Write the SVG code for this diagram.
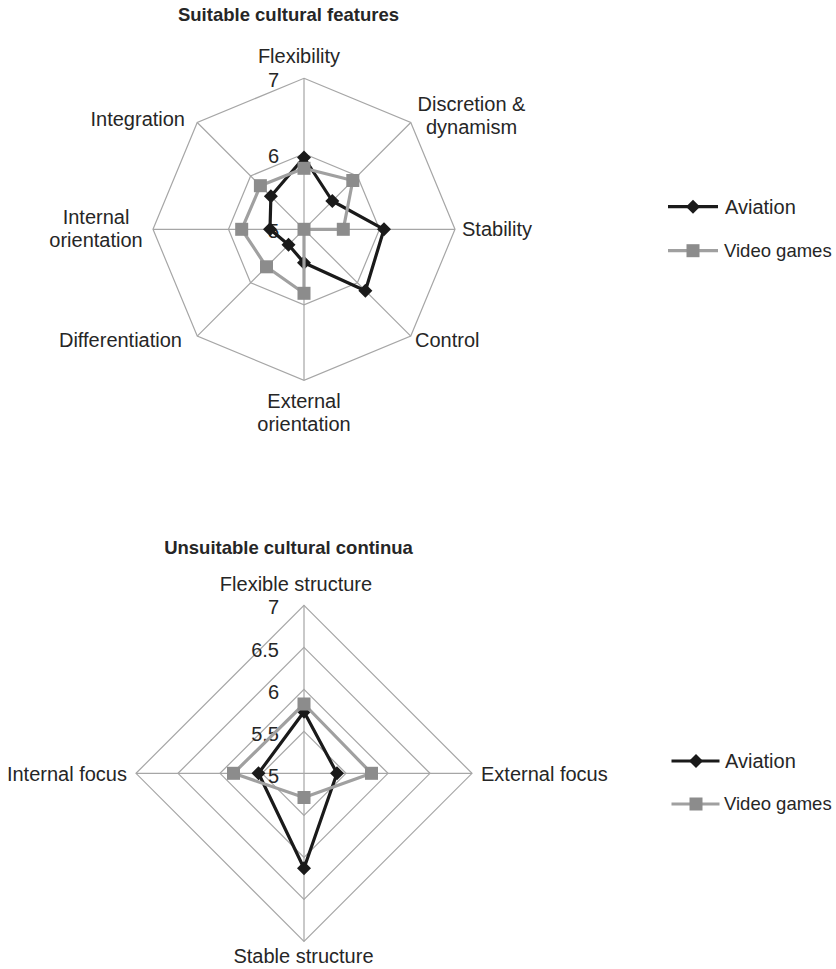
<svg xmlns="http://www.w3.org/2000/svg" xmlns:xlink="http://www.w3.org/1999/xlink" width="836" height="969" viewBox="0 0 836 969">
<style>
  text { font-family: "Liberation Sans", Arial, sans-serif; font-size: 20px; fill: #262626; }
  .title { font-weight: bold; font-size: 18.5px; }
  .mid { text-anchor: middle; }
  .end { text-anchor: end; }
  .leg { font-size: 18.5px; }
  .grid { fill: none; stroke: #a6a6a6; stroke-width: 1.2; }
  .av { fill: none; stroke: #1a1a1a; stroke-width: 3.2; stroke-linejoin: round; }
  .vg { fill: none; stroke: #a0a0a0; stroke-width: 3.2; stroke-linejoin: round; }
</style>
<defs>
  <polygon id="dia" points="0,-7 7,0 0,7 -7,0" fill="#1a1a1a"/>
  <rect id="sq" x="-6.5" y="-6.5" width="13" height="13" fill="#8c8c8c"/>
</defs>
<rect width="836" height="969" fill="#ffffff"/>

<!-- Top chart -->
<g id="chart1">
  <text class="title mid" x="288.5" y="21">Suitable cultural features</text>
  <g id="grid1">
    <polygon class="grid" points="304,78.3 410.77,122.53 455,229.3 410.77,336.07 304,380.3 197.23,336.07 153,229.3 197.23,122.53"/>
    <polygon class="grid" points="304,153.8 357.39,175.91 379.5,229.3 357.39,282.69 304,304.8 250.61,282.69 228.5,229.3 250.61,175.91"/>
    <path class="grid" d="M304,229.3L304,78.3M304,229.3L410.77,122.53M304,229.3L455,229.3M304,229.3L410.77,336.07M304,229.3L304,380.3M304,229.3L197.23,336.07M304,229.3L153,229.3M304,229.3L197.23,122.53"/>
  </g>
  <g id="scale1">
    <text class="end" x="279" y="87">7</text>
    <text class="end" x="279" y="162.5">6</text>
    <text class="end" x="279" y="238">5</text>
  </g>
  <g id="axes1">
    <text class="mid" x="299" y="63.3">Flexibility</text>
    <text class="mid" x="471.5" y="110.7">Discretion &amp;</text>
    <text class="mid" x="471.5" y="133.5">dynamism</text>
    <text x="462" y="236">Stability</text>
    <text x="415" y="346.5">Control</text>
    <text class="mid" x="304" y="408">External</text>
    <text class="mid" x="304" y="431">orientation</text>
    <text class="end" x="182" y="346.7">Differentiation</text>
    <text class="mid" x="96" y="224">Internal</text>
    <text class="mid" x="96" y="247">orientation</text>
    <text class="end" x="185" y="126">Integration</text>
  </g>
  <g id="series1-aviation">
    <polygon class="av" points="304,157.5 332.3,201 384,229.3 365.4,290.7 304,262.7 288.5,244.8 270,229.3 270.9,196.2"/>
    <use href="#dia" x="304" y="157.5"/>
    <use href="#dia" x="332.3" y="201"/>
    <use href="#dia" x="384" y="229.3"/>
    <use href="#dia" x="365.4" y="290.7"/>
    <use href="#dia" x="304" y="262.7"/>
    <use href="#dia" x="288.5" y="244.8"/>
    <use href="#dia" x="270" y="229.3"/>
    <use href="#dia" x="270.9" y="196.2"/>
  </g>
  <g id="series1-videogames">
    <polygon class="vg" points="304,168.3 352.8,180.5 343.3,229.3 304,229.3 304,293.3 266.5,266.8 241.7,229.3 260.4,185.7"/>
    <use href="#sq" x="304" y="168.3"/>
    <use href="#sq" x="352.8" y="180.5"/>
    <use href="#sq" x="343.3" y="229.3"/>
    <use href="#sq" x="304" y="229.3"/>
    <use href="#sq" x="304" y="293.3"/>
    <use href="#sq" x="266.5" y="266.8"/>
    <use href="#sq" x="241.7" y="229.3"/>
    <use href="#sq" x="260.4" y="185.7"/>
  </g>
  <g id="legend1">
    <line class="av" x1="668" y1="206.7" x2="718" y2="206.7"/>
    <use href="#dia" x="693" y="206.7"/>
    <text x="725" y="213.5">Aviation</text>
    <line class="vg" x1="668" y1="250.7" x2="718" y2="250.7"/>
    <use href="#sq" x="693" y="250.7"/>
    <text class="leg" x="724" y="257">Video games</text>
  </g>
</g>

<!-- Bottom chart -->
<g id="chart2">
  <text class="title mid" x="288.5" y="554">Unsuitable cultural continua</text>
  <g id="grid2">
    <polygon class="grid" points="304,605.3 472,773.3 304,941.3 136,773.3"/>
    <polygon class="grid" points="304,647.3 430,773.3 304,899.3 178,773.3"/>
    <polygon class="grid" points="304,689.3 388,773.3 304,857.3 220,773.3"/>
    <polygon class="grid" points="304,731.3 346,773.3 304,815.3 262,773.3"/>
    <path class="grid" d="M304,773.3L304,605.3M304,773.3L472,773.3M304,773.3L304,941.3M304,773.3L136,773.3"/>
  </g>
  <g id="scale2">
    <text class="end" x="279" y="614">7</text>
    <text class="end" x="279" y="656.5">6.5</text>
    <text class="end" x="279" y="698.5">6</text>
    <text class="end" x="279" y="740.5">5.5</text>
    <text class="end" x="279" y="782.5">5</text>
  </g>
  <g id="axes2">
    <text class="mid" x="296" y="590.7">Flexible structure</text>
    <text x="481" y="781">External focus</text>
    <text class="mid" x="303.5" y="963.3">Stable structure</text>
    <text class="end" x="127" y="781">Internal focus</text>
  </g>
  <g id="series2-aviation">
    <polygon class="av" points="304,711.7 337,773.3 304,868.3 258.5,773.3"/>
    <use href="#dia" x="304" y="711.7"/>
    <use href="#dia" x="337" y="773.3"/>
    <use href="#dia" x="304" y="868.3"/>
    <use href="#dia" x="258.5" y="773.3"/>
  </g>
  <g id="series2-videogames">
    <polygon class="vg" points="304,704 371.5,773.3 304,797.5 233.5,773.3"/>
    <use href="#sq" x="304" y="704"/>
    <use href="#sq" x="371.5" y="773.3"/>
    <use href="#sq" x="304" y="797.5"/>
    <use href="#sq" x="233.5" y="773.3"/>
  </g>
  <g id="legend2">
    <line class="av" x1="671.5" y1="761" x2="719.5" y2="761"/>
    <use href="#dia" x="696" y="761"/>
    <text x="725" y="767.5">Aviation</text>
    <line class="vg" x1="671.5" y1="804" x2="719.5" y2="804"/>
    <use href="#sq" x="696" y="804"/>
    <text class="leg" x="724" y="810">Video games</text>
  </g>
</g>
</svg>
